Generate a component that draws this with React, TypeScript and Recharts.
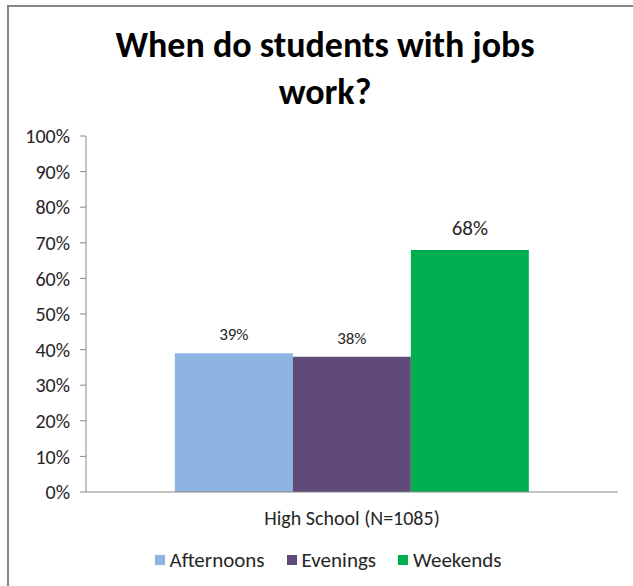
import { BarChart, Bar, XAxis, YAxis, LabelList } from 'recharts'

const categories = ['High School (N=1085)']
const seriesNames = ['Afternoons', 'Evenings', 'Weekends']
const afternoons = [39]
const evenings = [38]
const weekends = [68]
const yTicks = [0, 10, 20, 30, 40, 50, 60, 70, 80, 90, 100]

const COLORS: Record<string, string> = {
  Afternoons: '#8EB4E3',
  Evenings: '#604A7B',
  Weekends: '#00B050',
}

const FONT = 'Carlito, Lato, "Liberation Sans", sans-serif'

const data = categories.map((name, i) => ({
  name,
  Afternoons: afternoons[i],
  Evenings: evenings[i],
  Weekends: weekends[i],
}))

export default function App() {
  return (
    <div style={{ position: 'absolute', left: 0, top: 0, width: 633, height: 586, background: '#fff', overflow: 'hidden', fontFamily: FONT }}>
      {/* frame, cut off on the right and bottom like the source */}
      <div style={{ position: 'absolute', left: 7, top: 5, width: 700, height: 700, borderLeft: '2px solid #898989', borderTop: '2px solid #898989' }} />
      <div style={{ position: 'absolute', left: 0, top: 22, width: 650, textAlign: 'center', fontWeight: 700, fontSize: 36, lineHeight: '47px', color: '#000' }}>
        When do students with jobs<br />work?
      </div>
      <div style={{ position: 'absolute', left: 0, top: 0 }}>
        <BarChart
          width={633}
          height={586}
          data={data}
          margin={{ top: 136, right: 15, bottom: 64, left: 0 }}
          barCategoryGap="16.7%"
          barGap={0}
        >
          <XAxis
            dataKey="name"
            height={30}
            axisLine={{ stroke: '#898989' }}
            tickLine={false}
            tick={{ fontSize: 20, fill: '#262626', fontFamily: FONT }}
            dy={11}
          />
          <YAxis
            width={86}
            domain={[0, 100]}
            ticks={yTicks}
            interval={0}
            tickFormatter={(v: number) => `${v}%`}
            axisLine={{ stroke: '#898989' }}
            tickLine={{ stroke: '#898989' }}
            tickSize={6}
            tick={{ fontSize: 20, fill: '#262626', fontFamily: FONT }}
            dx={-8}
          />
          {seriesNames.map((s) => (
            <Bar key={s} dataKey={s} fill={COLORS[s]} isAnimationActive={false}>
              <LabelList
                dataKey={s}
                position="top"
                offset={s === 'Weekends' ? 15 : 13}
                formatter={(v: number) => `${v}%`}
                style={{ fontSize: s === 'Weekends' ? 21 : 17, fill: '#262626', fontFamily: FONT }}
              />
            </Bar>
          ))}
        </BarChart>
      </div>
      {/* legend */}
      <div style={{ position: 'absolute', left: 11, top: 547, width: 656, display: 'flex', justifyContent: 'center', fontSize: 21, color: '#262626' }}>
        {seriesNames.map((s) => (
          <div key={s} style={{ display: 'flex', alignItems: 'center', marginRight: 22 }}>
            <span style={{ display: 'inline-block', width: 10, height: 10, background: COLORS[s], marginRight: 5 }} />
            <span>{s}</span>
          </div>
        ))}
      </div>
    </div>
  )
}
